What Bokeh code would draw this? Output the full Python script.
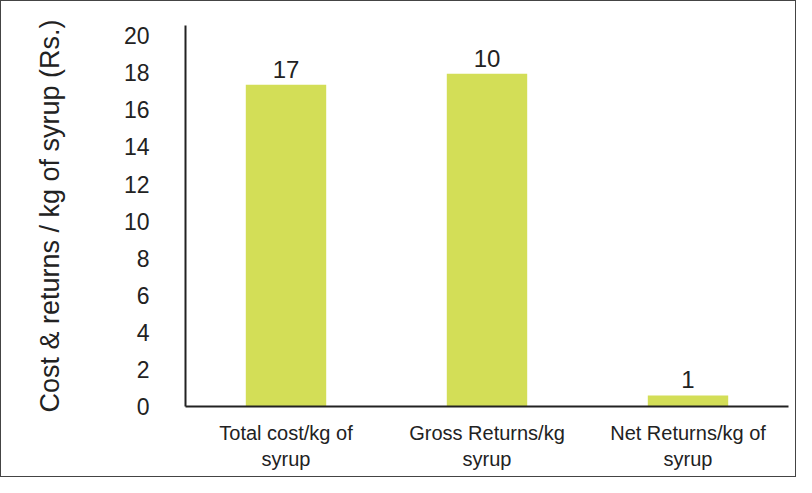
from bokeh.plotting import figure
from bokeh.models import ColumnDataSource, FixedTicker, Range1d, LabelSet
from bokeh.core.properties import value
from bokeh.embed import file_html
from bokeh.resources import INLINE

categories = ["Total cost/kg of\nsyrup", "Gross Returns/kg\nsyrup", "Net Returns/kg of\nsyrup"]
bar_values = [17.35, 17.95, 0.6]
bar_labels = ["17", "10", "1"]
y_ticks = [0, 2, 4, 6, 8, 10, 12, 14, 16, 18, 20]

src = ColumnDataSource(dict(cat=categories, val=bar_values, lab=bar_labels))

p = figure(x_range=categories, y_range=Range1d(0, 20.55), width=796, height=477,
           output_backend="svg", toolbar_location=None,
           min_border_left=184, min_border_right=9, min_border_top=24, min_border_bottom=72)
p.styles = {"border": "1px solid #444", "box-sizing": "border-box"}

p.vbar(x="cat", top="val", width=0.4, bottom=0, source=src, color="#d3de57", line_color=None)

labels = LabelSet(x="cat", y="val", text="lab", source=src, text_align="center",
                  text_baseline="bottom", y_offset=7, text_font_size="24px",
                  text_color="#222222", text_font=value("Liberation Sans"))
p.add_layout(labels)

p.xgrid.grid_line_color = None
p.ygrid.grid_line_color = None
p.outline_line_color = None
p.background_fill_color = "white"
p.border_fill_color = "white"

p.yaxis.ticker = FixedTicker(ticks=y_ticks)
p.yaxis.axis_label = "Cost & returns / kg of syrup (Rs.)"
p.yaxis.axis_label_text_font = "Liberation Sans"
p.yaxis.axis_label_text_font_size = "27px"
p.yaxis.axis_label_text_font_style = "normal"
p.yaxis.axis_label_text_color = "#222222"
p.yaxis.axis_label_standoff = 56
p.yaxis.major_label_text_font = "Liberation Sans"
p.yaxis.major_label_text_font_size = "23px"
p.yaxis.major_label_text_color = "#222222"
p.yaxis.major_label_standoff = 30

for ax in (p.xaxis, p.yaxis):
    ax.axis_line_color = "#222222"
    ax.axis_line_width = 2
    ax.major_tick_line_color = None
    ax.minor_tick_line_color = None

p.xaxis.major_label_text_font = "Liberation Sans"
p.xaxis.major_label_text_font_size = "20px"
p.xaxis.major_label_text_color = "#222222"
p.xaxis.major_label_standoff = 9

open("out.html", "w").write(file_html(p, INLINE))
